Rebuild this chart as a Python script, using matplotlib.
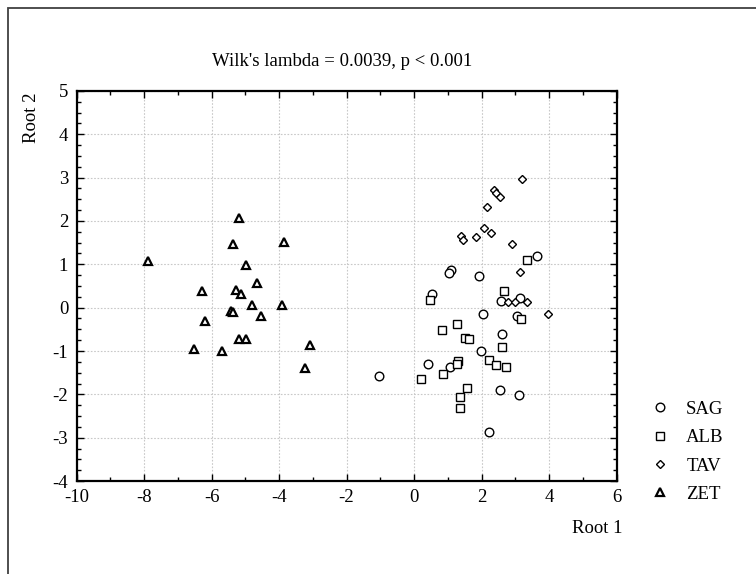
import matplotlib
matplotlib.use("Agg")
import matplotlib.pyplot as plt
from matplotlib.patches import Rectangle
from matplotlib.ticker import MultipleLocator

plt.rcParams['font.family'] = ['Liberation Serif', 'DejaVu Serif']
plt.rcParams['axes.unicode_minus'] = False

# canonical scores
sag_x = [3.63, 1.10, 1.05, 1.92, 0.53, 2.58, 3.15, 2.03, 3.04, 2.60, 1.98, 0.42, 1.07, 2.56, 3.11, 2.21, -1.04]
sag_y = [1.19, 0.87, 0.81, 0.72, 0.32, 0.15, 0.22, -0.15, -0.19, -0.61, -1.01, -1.31, -1.37, -1.91, -2.01, -2.88, -1.57]

alb_x = [3.34, 0.46, 2.67, 3.16, 1.28, 0.82, 1.51, 1.63, 2.60, 1.30, 1.28, 2.21, 2.44, 2.73, 0.87, 0.20, 1.58, 1.35, 1.35]
alb_y = [1.10, 0.17, 0.39, -0.27, -0.37, -0.52, -0.70, -0.73, -0.90, -1.23, -1.30, -1.21, -1.33, -1.37, -1.54, -1.65, -1.86, -2.06, -2.31]

tav_x = [3.21, 2.38, 2.44, 2.54, 2.16, 2.06, 2.28, 1.40, 1.45, 1.83, 2.91, 3.14, 2.79, 2.98, 3.35, 3.96]
tav_y = [2.97, 2.72, 2.64, 2.56, 2.33, 1.83, 1.72, 1.65, 1.55, 1.63, 1.46, 0.82, 0.12, 0.12, 0.12, -0.15]

zet_x = [-5.18, -5.36, -3.86, -7.87, -4.99, -4.65, -6.29, -5.27, -5.13, -4.80, -3.90,
         -5.43, -5.36, -4.53, -6.18, -5.18, -4.98, -3.08, -6.52, -5.69, -3.22]
zet_y = [2.06, 1.46, 1.52, 1.08, 0.99, 0.56, 0.39, 0.41, 0.31, 0.05, 0.05,
         -0.08, -0.11, -0.20, -0.31, -0.73, -0.73, -0.87, -0.96, -1.01, -1.40]

fig = plt.figure(figsize=(7.56, 5.74), dpi=100)
ax = fig.add_axes([0.1012, 0.162, 0.7143, 0.6795])

# outer frame (only left and top edges visible in the reference)
fig.patches.append(Rectangle((8 / 756, -0.2), 1.5, 1.2 - 8 / 574, transform=fig.transFigure,
                             fill=False, edgecolor='#404040', lw=1.3))

h1, = ax.plot(sag_x, sag_y, 'o', ms=6.2, mfc='white', mec='black', mew=1.0, label='SAG')
h2, = ax.plot(alb_x, alb_y, 's', ms=5.8, mfc='white', mec='black', mew=1.0, label='ALB')
h3, = ax.plot(tav_x, tav_y, 'D', ms=3.6, mfc='white', mec='black', mew=1.0, label='TAV')
h4, = ax.plot(zet_x, zet_y, '^', ms=5.6, mfc='white', mec='black', mew=1.6, label='ZET')

ax.set_xlim(-10, 6)
ax.set_ylim(-4, 5)
ax.xaxis.set_major_locator(MultipleLocator(2))
ax.xaxis.set_minor_locator(MultipleLocator(1))
ax.yaxis.set_major_locator(MultipleLocator(1))
ax.yaxis.set_minor_locator(MultipleLocator(0.25))

ax.tick_params(which='both', direction='in', top=True, right=True, colors='black',
               labelsize=13.5, width=1.0)
ax.tick_params(which='major', length=5)
ax.tick_params(which='minor', length=3)
ax.tick_params(axis='x', pad=6)
ax.tick_params(axis='y', pad=6)

ax.grid(True, which='major', color='#c8c8c8', linestyle=(0, (1.5, 1.5)), lw=0.8)
ax.set_axisbelow(True)
for s in ax.spines.values():
    s.set_linewidth(1.6)

ax.set_xlabel('Root 1', fontsize=13.5, loc='right')
ax.xaxis.set_label_coords(1.012, -0.10)
ax.set_ylabel('Root 2', fontsize=13.5, loc='top')
ax.yaxis.set_label_coords(-0.068, 0.997)

fig.text(0.452, 0.892, "Wilk's lambda = 0.0039, p < 0.001", fontsize=13.5, ha='center', va='center')

fig.legend(handles=[h1, h2, h3, h4], loc='upper left', bbox_to_anchor=(0.8606, 0.302),
           frameon=False, fontsize=13.5, handlelength=1.0, handletextpad=0.9,
           labelspacing=0.6, borderpad=0, borderaxespad=0)

fig.savefig('out.png', dpi=100)
